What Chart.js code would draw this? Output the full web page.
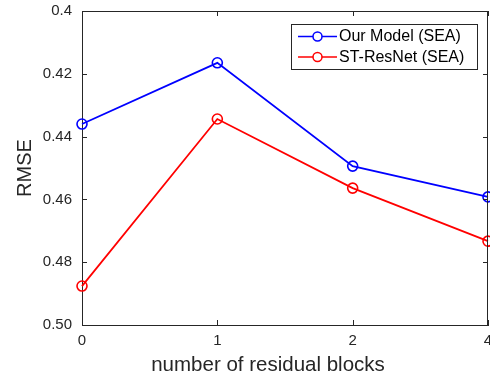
<!DOCTYPE html>
<html>
<head>
<meta charset="utf-8">
<script src="https://cdn.jsdelivr.net/npm/chart.js@4"></script>
<style>
  html, body { margin: 0; padding: 0; background: #fff; }
  #wrap { width: 490px; height: 379px; }
</style>
</head>
<body>
<div id="wrap"><canvas id="rmseChart" width="490" height="379"></canvas></div>
<script>
// number of residual blocks (equally spaced on the axis)
const blocks = ['0', '1', '2', '4'];
const ourModelSEA = [0.4360, 0.4165, 0.4494, 0.4592];
const stResNetSEA = [0.4876, 0.4344, 0.4564, 0.4733];
const yTickValues = [0.4, 0.42, 0.44, 0.46, 0.48, 0.5];
const yTickLabels = ['0.4', '0.42', '0.44', '0.46', '0.48', '0.50'];
const xTitle = 'number of residual blocks';

const axisColor = '#262626';
const fontFamily = '"Liberation Sans", Arial, Helvetica, sans-serif';

// MATLAB-like box with inward ticks on all four sides
const boxTicks = {
    id: 'boxTicks',
    afterDatasetsDraw(chart) {
        const { ctx, chartArea: a, scales } = chart;
        const len = 5;
        ctx.save();
        ctx.strokeStyle = axisColor;
        ctx.lineWidth = 1;
        ctx.beginPath();
        ctx.moveTo(a.left, a.top + 0.5);
        ctx.lineTo(a.right, a.top + 0.5);
        ctx.moveTo(a.right - 0.5, a.top);
        ctx.lineTo(a.right - 0.5, a.bottom);
        scales.x.ticks.forEach((t, i) => {
            const px = Math.round(scales.x.getPixelForTick(i)) + 0.5;
            ctx.moveTo(px, a.bottom);
            ctx.lineTo(px, a.bottom - len);
            ctx.moveTo(px, a.top);
            ctx.lineTo(px, a.top + len);
        });
        scales.y.ticks.forEach((t, i) => {
            const py = Math.round(scales.y.getPixelForTick(i)) + 0.5;
            ctx.moveTo(a.left, py);
            ctx.lineTo(a.left + len, py);
            ctx.moveTo(a.right, py);
            ctx.lineTo(a.right - len, py);
        });
        ctx.stroke();

        // x axis title (sits a little left of the plot centre in the original)
        ctx.fillStyle = axisColor;
        ctx.font = '20.5px ' + fontFamily;
        ctx.textAlign = 'center';
        ctx.textBaseline = 'middle';
        ctx.fillText(xTitle, 268, 365);
        ctx.restore();
    }
};

// legend box inside the plot, upper right
const insideLegend = {
    id: 'insideLegend',
    afterDraw(chart) {
        const { ctx } = chart;
        const x0 = 291, y0 = 24, w = 186, h = 45;
        ctx.save();
        ctx.fillStyle = '#fff';
        ctx.fillRect(x0, y0, w, h);
        ctx.strokeStyle = axisColor;
        ctx.lineWidth = 1;
        ctx.strokeRect(x0 + 0.5, y0 + 0.5, w, h);
        ctx.font = '16px ' + fontFamily;
        ctx.textBaseline = 'middle';
        chart.data.datasets.forEach((ds, i) => {
            const cy = y0 + 12.5 + i * 20.5;
            ctx.strokeStyle = ds.borderColor;
            ctx.lineWidth = 1.5;
            ctx.beginPath();
            ctx.moveTo(298, cy);
            ctx.lineTo(337, cy);
            ctx.stroke();
            ctx.beginPath();
            ctx.arc(317.5, cy, 4.5, 0, Math.PI * 2);
            ctx.fillStyle = '#fff';
            ctx.fill();
            ctx.stroke();
            ctx.fillStyle = '#000';
            ctx.fillText(ds.label, 339, cy + 0.5);
        });
        ctx.restore();
    }
};

const ctx = document.getElementById('rmseChart').getContext('2d');
new Chart(ctx, {
    type: 'line',
    data: {
        labels: blocks,
        datasets: [{
            label: 'Our Model (SEA)',
            data: ourModelSEA,
            borderColor: '#0000ff',
            borderWidth: 1.8,
            pointStyle: 'circle',
            pointRadius: 5,
            pointBorderWidth: 1.6,
            pointBackgroundColor: 'rgba(0,0,0,0)',
            pointBorderColor: '#0000ff',
            tension: 0,
            clip: false
        }, {
            label: 'ST-ResNet (SEA)',
            data: stResNetSEA,
            borderColor: '#ff0000',
            borderWidth: 1.8,
            pointStyle: 'circle',
            pointRadius: 5,
            pointBorderWidth: 1.6,
            pointBackgroundColor: 'rgba(0,0,0,0)',
            pointBorderColor: '#ff0000',
            tension: 0,
            clip: false
        }]
    },
    options: {
        responsive: false,
        animation: false,
        events: [],
        layout: {
            autoPadding: false,
            padding: { top: 11, right: 2, left: 0, bottom: 0 }
        },
        plugins: {
            legend: { display: false },
            tooltip: { enabled: false }
        },
        scales: {
            x: {
                type: 'category',
                offset: false,
                grid: { display: false, drawTicks: false },
                border: { display: true, color: axisColor, width: 1 },
                ticks: {
                    color: axisColor,
                    font: { family: fontFamily, size: 15 },
                    padding: 7,
                    maxRotation: 0
                },
                title: { display: false },
                afterFit(scale) {
                    scale.height = 54;
                    scale.paddingLeft = 0;
                    scale.paddingRight = 0;
                }
            },
            y: {
                reverse: true,
                min: 0.4,
                max: 0.5,
                grid: { display: false, drawTicks: false },
                border: { display: true, color: axisColor, width: 1 },
                ticks: {
                    stepSize: 0.02,
                    color: axisColor,
                    font: { family: fontFamily, size: 15 },
                    padding: 10,
                    callback: (v) => {
                        const k = yTickValues.findIndex(t => Math.abs(t - v) < 1e-6);
                        return k >= 0 ? yTickLabels[k] : '';
                    }
                },
                title: {
                    display: true,
                    text: 'RMSE',
                    color: axisColor,
                    font: { family: fontFamily, size: 20 },
                    padding: { top: 13, bottom: 0 }
                },
                afterFit(scale) {
                    scale.width = 82;
                    scale.paddingTop = 0;
                    scale.paddingBottom = 0;
                }
            }
        }
    },
    plugins: [boxTicks, insideLegend]
});
</script>
</body>
</html>
